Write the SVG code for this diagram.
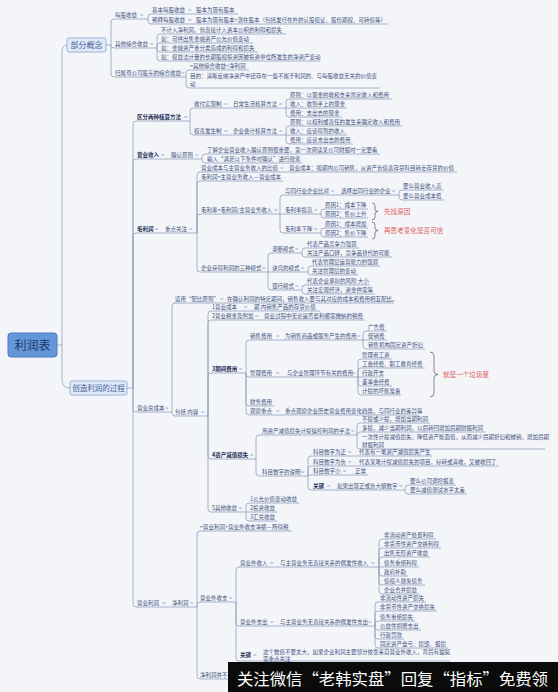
<svg xmlns="http://www.w3.org/2000/svg" width="558" height="692" viewBox="0 0 558 692">
<style>
text{font-family:"Noto Sans CJK SC","Noto Sans",sans-serif;font-size:5.5px;fill:#3d4f7c}
.b{font-weight:bold;fill:#1e2d57}
.e{fill:#a3aec6;font-size:6px}
.r{fill:#e06262;font-size:6.6px}
.ln{fill:none;stroke:#8fa0c0;stroke-width:0.8}
.br{fill:none;stroke:#555b66;stroke-width:0.7}
.box{fill:#e2eaf7;stroke:#86a5d8;stroke-width:0.8}
</style>
<rect width="558" height="692" fill="#f3f5f9"/>
<g id="connectors" class="ln">
<path d="M57,345H62M62,345V52Q62,45 67,45M62,345V380Q62,388 70,388"/>
<path d="M106,45H111M111,45V22Q111,19 114,19H148M111,45Q111,48 114,48H157M111,45V74Q111,77 114,77H186"/>
<path d="M148,19V17Q148,14 151,14H238M148,19V21Q148,24 151,24H388"/>
<path d="M157,48V37Q157,34 160,34H286M157,48V46Q157,43 160,43H253M157,48V49Q157,52 160,52H258M157,48V58Q157,61 160,61H320"/>
<path d="M186,77V73Q186,70 189,70H249M186,77V85Q186,88 189,88H380"/>
<path d="M127,388H133M133,388V124Q133,121 136,121H190M133,388V162Q133,159 136,159H202M133,388V236Q133,233 136,233H197M133,388V409Q133,412 136,412H172M133,388V604Q133,607 136,607H197"/>
<path d="M190,121V111Q190,108 193,108H286M190,121V132Q190,135 193,135H286"/>
<path d="M286,108V102Q286,99 289,99H392M286,108H347M286,108V114Q286,117 289,117H342"/>
<path d="M286,135V129Q286,126 289,126H402M286,135H347M286,135V141Q286,144 289,144H353"/>
<path d="M202,159V157Q202,154 205,154H380M202,159V160Q202,163 205,163H302"/>
<path d="M197,233V175Q197,172 200,172H457M197,233V184Q197,181 200,181H283M197,233V217Q197,214 200,214H280M197,233V269Q197,272 200,272H268"/>
<path d="M280,214V198Q280,195 283,195H399M280,214H321M280,214V230Q280,233 283,233H321"/>
<path d="M399,195V193Q399,190 402,190H444M399,195V197Q399,200 402,200H444"/>
<path d="M321,214V212Q321,209 324,209H368M321,214V215Q321,218 324,218H368M321,233V231Q321,228 324,228H368M321,233V234Q321,237 324,237H368"/>
<path d="M268,272V256Q268,253 271,253H302M268,272H308M268,272V287Q268,290 271,290H302"/>
<path d="M302,253V251Q302,248 305,248H359M302,253V254Q302,257 305,257H392M308,272V269Q308,266 311,266H380M308,272Q308,275 311,275H358M302,290V288Q302,285 305,285H370M302,290V291Q302,294 305,294H375"/>
<path d="M172,412V306Q172,303 175,303H394M172,412V413Q172,416 175,416H208"/>
<path d="M208,416V314Q208,311 211,311H320M208,416V323Q208,320 211,320H365M208,416V376Q208,373 211,373H246M208,416V456Q208,459 211,459H256M208,416V509Q208,512 211,512H246"/>
<path d="M246,373V343Q246,340 249,340H363M246,373V374Q246,377 249,377H358M246,373V403Q246,406 249,406H274M246,373V412Q246,415 249,415H419"/>
<path d="M363,340V334Q363,331 366,331H387M363,340H387M363,340V346Q363,349 366,349H425"/>
<path d="M358,377V362Q358,359 361,359H392M358,377V371Q358,368 361,368H425M358,377H384M358,377V383Q358,386 361,386H392M358,377V392Q358,395 361,395H401"/>
<path d="M256,459V438Q256,435 259,435H357M256,459V473Q256,476 259,476H308"/>
<path d="M357,435V426Q357,423 360,423H430M357,435Q357,432 360,432H485M357,435V446Q357,449 360,449H545"/>
<path d="M308,476V459Q308,456 311,456H432M308,476V469Q308,466 311,466H499M308,476Q308,475 311,475H368M308,476V487Q308,490 311,490H405"/>
<path d="M405,490V488Q405,485 408,485H456M405,490V491Q405,494 408,494H467"/>
<path d="M246,512V506Q246,503 249,503H299M246,512H277M246,512V518Q246,521 249,521H277"/>
<path d="M197,607V534Q197,531 200,531H292M197,607V605Q197,602 200,602H236M197,607V676Q197,679 200,679H262"/>
<path d="M236,602V570Q236,567 239,567H379M236,602V623Q236,626 239,626H375M236,602V658Q236,661 239,661H450"/>
<path d="M379,567V542Q379,539 382,539H436M379,567V551Q379,548 382,548H441M379,567V560Q379,557 382,557H430M379,567H419M379,567V573Q379,576 382,576H408M379,567V582Q379,585 382,585H425M379,567V591Q379,594 382,594H419"/>
<path d="M375,626V605Q375,602 378,602H426M375,626V614Q375,611 378,611H437M375,626V624Q375,621 378,621H415M375,626V627Q375,630 378,630H421M375,626V636Q375,639 378,639H404M375,626V645Q375,648 378,648H448"/>
</g>
<g id="braces" class="br">
<path d="M372,203Q375,203 375,206V209Q375,211.5 378,211.5Q375,211.5 375,214V217Q375,220 372,220"/>
<path d="M372,222Q375,222 375,225V228Q375,230.5 378,230.5Q375,230.5 375,233V236Q375,239 372,239"/>
<path d="M430,352Q434,352 434,356V371Q434,374.5 438,374.5Q434,374.5 434,378V393Q434,397 430,397"/>
</g>
<g id="n-root"><rect x="8" y="333" width="49" height="24" rx="3" fill="#6397d9" stroke="#4b7cc3"/><text x="32.5" y="349.5" text-anchor="middle" style="font-size:12px;fill:#1d3568">利润表</text></g>
<g id="n-concept"><rect class="box" x="67" y="38" width="39" height="14" rx="2"/><text x="86.5" y="47.8" text-anchor="middle" style="font-size:8px;fill:#3d5c9c">部分概念</text></g>
<g id="n-process"><rect class="box" x="70" y="381" width="57" height="14" rx="2"/><text x="98.5" y="390.8" text-anchor="middle" style="font-size:7.5px;fill:#3d5c9c">创造利润的过程</text></g>
<g id="n-eps"><text x="115" y="17">每股收益</text><text class="e" x="140" y="17">=</text></g>
<g id="n-eps-basic"><text x="152" y="12">基本每股收益</text><text class="e" x="188" y="12">=</text><text x="196" y="12">股本为现有股本</text></g>
<g id="n-eps-diluted"><text x="152" y="22">稀释每股收益</text><text class="e" x="188" y="22">=</text><text x="196" y="22">股本为现有股本+潜在股本（包括发行在外的认股权证、股份期权、可转债等）</text></g>
<g id="n-oci"><text x="115" y="46">其他综合收益</text><text class="e" x="150" y="46">=</text>
<text x="161" y="32">不计入净利润，但直接计入资本公积的利得和损失</text>
<text x="161" y="41">如：可供出售金融资产公允价值变动</text>
<text x="161" y="50">如：金融资产重分类造成的利得和损失</text>
<text x="161" y="59">如：权益法计量的长期股权投资因被投资单位所发生的净资产变动</text></g>
<g id="n-attr"><text x="115" y="75">归属母公司股东的综合收益</text><text class="e" x="181" y="75">=</text>
<text x="190" y="68">=其他综合收益+净利润</text>
<text x="190" y="78">目的：清晰反映净资产中还存在一些不属于利润的、与每股收益无关的价值变</text>
<text x="190" y="86">动</text></g>
<g id="n-methods"><text class="b" x="137" y="119">区分两种核算方法</text><text class="e" x="184" y="119">=</text></g>
<g id="n-cash"><text x="194" y="106">收付实现制</text><text class="e" x="224" y="106">=</text><text x="233" y="106">日常生活核算方法</text><text class="e" x="279" y="106">=</text>
<text x="290" y="97">原则：以现金的收和支来界定收入和费用</text>
<text x="290" y="106">收入：收到手上的现金</text>
<text x="290" y="115">费用：支出去的现金</text></g>
<g id="n-accrual"><text x="194" y="133">权责发生制</text><text class="e" x="224" y="133">=</text><text x="233" y="133">企业会计核算方法</text><text class="e" x="279" y="133">=</text>
<text x="290" y="124">原则：以权利或责任的发生来确定收入和费用</text>
<text x="290" y="133">收入：应该得到的收入</text>
<text x="290" y="142">费用：应该支出去的费用</text></g>
<g id="n-revenue"><text class="b" x="137" y="157">营业收入</text><text class="e" x="161" y="157">=</text><text x="171" y="157">确认原则</text><text class="e" x="195" y="157">=</text>
<text x="207" y="152">了解企业营业收入确认原则很重要，第一次阅读某公司财报时一定要看</text>
<text x="207" y="161">输入“满足以下条件时确认”进行搜索</text></g>
<g id="n-gross"><text class="b" x="137" y="231">毛利润</text><text class="e" x="155" y="231">=</text><text x="165" y="231">重点关注</text><text class="e" x="189" y="231">=</text></g>
<g id="n-cost-ratio"><text x="201" y="170">营业成本与主营业务收入的比值</text><text class="e" x="280" y="170">=</text><text x="289" y="170">营业成本：按期内公司销售，从资产负债表存货科目转走存货的价值</text></g>
<g id="n-gp"><text x="201" y="179">毛利润=主营业务收入－营业成本</text></g>
<g id="n-gm"><text x="201" y="212">毛利率=毛利润/主营业务收入</text><text class="e" x="274" y="212">=</text></g>
<g id="n-peer"><text x="285" y="193">与同行业企业比对</text><text class="e" x="331" y="193">=</text><text x="341" y="193">选择出同行业的企业</text><text class="e" x="392" y="193">=</text>
<text x="403" y="188">要么营业收入高</text><text x="403" y="198">要么营业成本低</text></g>
<g id="n-gm-up"><text x="285" y="212">毛利率提高</text><text class="e" x="314" y="212">=</text>
<text x="325" y="207">原因1：成本下降</text><text x="325" y="216">原因2：售价上升</text>
<text class="r" x="384" y="213.5">先找原因</text></g>
<g id="n-gm-down"><text x="285" y="231">毛利率下降</text><text class="e" x="314" y="231">=</text>
<text x="325" y="226">原因1：成本增加</text><text x="325" y="235">原因2：售价下降</text>
<text class="r" x="384" y="232.5">再思考变化是否可信</text></g>
<g id="n-modes"><text x="201" y="270">企业获得利润的三种模式</text><text class="e" x="262" y="270">=</text></g>
<g id="n-monopoly"><text x="272" y="251">垄断模式</text><text class="e" x="295" y="251">=</text>
<text x="307" y="246">代表产品竞争力强弱</text><text x="307" y="255">关注产品口碑，竞争品替代的可能</text></g>
<g id="n-knowhow"><text x="272" y="270">诀窍的模式</text><text class="e" x="301" y="270">=</text>
<text x="312" y="264">代表管理层运营能力的强弱</text><text x="312" y="273">关注管理层的变动</text></g>
<g id="n-bank"><text x="272" y="288">银行模式</text><text class="e" x="295" y="288">=</text>
<text x="307" y="283">代表企业承担的风险 大小</text><text x="307" y="292">关注宏观经济，资金供需等</text></g>
<g id="n-total-cost"><text x="137" y="410">营业总成本</text><text class="e" x="165" y="410">=</text></g>
<g id="n-matching"><text x="175" y="301">适用“配比原则”</text><text class="e" x="220" y="301">=</text><text x="227" y="301">在确认利润的特定期间，销售收入要与其对应的成本和费用相互配比。</text></g>
<g id="n-include"><text x="175" y="414">包括 内容</text><text class="e" x="201" y="414">=</text></g>
<g id="n-c1"><text x="212" y="309">1营业成本</text><text class="e" x="244" y="309">=</text><text x="254" y="309">期 内销售产品的存货价值</text></g>
<g id="n-c2"><text x="212" y="318">2营业税金及附加</text><text class="e" x="255" y="318">=</text><text x="264" y="318">营业过程中无论是否盈利都需缴纳的税费</text></g>
<g id="n-c3"><text class="b" x="212" y="371">3期间费用</text><text class="e" x="239" y="371">=</text></g>
<g id="n-sell"><text x="250" y="338">销售费用</text><text class="e" x="276" y="338">=</text><text x="285" y="338">为销售商品或服务产生的费用</text><text class="e" x="357" y="338">=</text>
<text x="368" y="329">广告费</text><text x="368" y="338">促销费</text><text x="368" y="347">销售机构固定资产折旧</text></g>
<g id="n-admin"><text x="250" y="375">管理费用</text><text class="e" x="276" y="375">=</text><text x="287" y="375">与企业管理环节有关的费用</text><text class="e" x="352" y="375">=</text>
<text x="362" y="357">管理者工资</text><text x="362" y="366">工会经费、职工教育经费</text><text x="362" y="375">行政开支</text><text x="362" y="384">董事会经费</text><text x="362" y="393">计提的坏账准备</text>
<text class="r" x="443" y="376.5">就是一个垃圾筐</text></g>
<g id="n-fin"><text x="250" y="404">财务费用</text></g>
<g id="n-observe"><text x="250" y="413">观察重点</text><text class="e" x="276" y="413">=</text><text x="285" y="413">重点观察企业历史营业费用变化趋势，与同行业的差异等</text></g>
<g id="n-c4"><text class="b" x="212" y="457">4资产减值损失</text><text class="e" x="250" y="457">=</text></g>
<g id="n-manip"><text x="262" y="433">用资产减值损失计提操控利润的手法</text><text class="e" x="351" y="433">=</text>
<text x="362" y="421">不提或少提，增加当期利润</text>
<text x="362" y="430">多提，减少当期利润，以后转回增加后期财报利润</text>
<text x="362" y="439">一次性计提减值损失，降低资产账面值，从而减少后期折旧和摊销，增加后期</text>
<text x="362" y="447">财报利润</text></g>
<g id="n-explain"><text x="262" y="474">科目数字的说明</text><text class="e" x="301" y="474">=</text>
<text x="313" y="454">科目数字为正</text><text class="e" x="348" y="454">=</text><text x="359" y="454">代表有一笔资产减值损失产生</text>
<text x="313" y="464">科目数字为负</text><text class="e" x="348" y="464">=</text><text x="359" y="464">代表某笔计提减值损失的项目，好转或清收，又被收回了</text>
<text x="313" y="473">科目数字小</text><text class="e" x="343" y="473">=</text><text x="355" y="473">正常</text></g>
<g id="n-key1"><text class="b" x="313" y="488">关键</text><text class="e" x="327" y="488">=</text><text x="337" y="488">如果出现正或负大额数字</text><text class="e" x="399" y="488">=</text>
<text x="410" y="483">要么公司调控报表</text><text x="410" y="492">要么减值测试水平太差</text></g>
<g id="n-c5"><text x="212" y="510">5其他收益</text><text class="e" x="239" y="510">=</text>
<text x="250" y="501">1公允价值变动收益</text><text x="250" y="510">2投资收益</text><text x="250" y="519">3汇兑收益</text></g>
<g id="n-op"><text x="137" y="605">营业利润</text><text class="e" x="162" y="605">=</text><text x="172" y="605">净利润</text><text class="e" x="190" y="605">=</text>
<text x="200" y="529">=营业利润+营业外收支净额－所得税</text></g>
<g id="n-nonop"><text x="200" y="600">营业外收支</text><text class="e" x="229" y="600">=</text></g>
<g id="n-nonop-in"><text x="240" y="565">营业外收入</text><text class="e" x="270" y="565">=</text><text x="280" y="565">与主营业务无直接关系的偶发性收入</text><text class="e" x="371" y="565">=</text>
<text x="384" y="537">非流动资产处置利得</text><text x="384" y="546">非货币性资产交换利得</text><text x="384" y="555">出售无形资产收益</text><text x="384" y="565">债务重组利得</text><text x="384" y="574">政府补助</text><text x="384" y="583">债权人豁免债务</text><text x="384" y="592">企业合并损益</text></g>
<g id="n-nonop-out"><text x="240" y="624">营业外支出</text><text class="e" x="270" y="624">=</text><text x="280" y="624">与主营业务无直接关系的偶发性支出</text><text class="e" x="368" y="624">=</text>
<text x="380" y="600">非流动性资产损失</text><text x="380" y="609">非货币性资产交换损失</text><text x="380" y="619">债务重组损失</text><text x="380" y="628">公益性捐赠支出</text><text x="380" y="637">行政罚款</text><text x="380" y="646">固定资产盘亏、损毁、报损</text></g>
<g id="n-key2"><text class="b" x="240" y="657">关键</text><text class="e" x="253" y="657">=</text><text x="263" y="654">这个数值不要太大，如果企业利润主要部分依靠来自营业外收入，背后有猫腻</text><text x="263" y="660.5">需重点关注</text></g>
<g id="n-np"><text x="200" y="677">净利润并不</text></g>
<g id="banner"><rect x="228" y="662" width="330" height="30" fill="#0b0b0b"/><text x="237" y="684.5" textLength="311" lengthAdjust="spacingAndGlyphs" style="font-size:16px;fill:#ffffff">关注微信“老韩实盘”回复“指标”免费领</text></g>
</svg>
